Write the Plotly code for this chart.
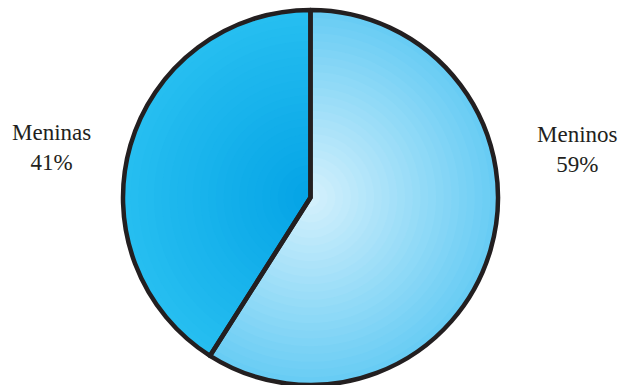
import plotly.graph_objects as go

categories = ["Meninos", "Meninas"]
values = [59, 41]

# gradient colours (edge -> centre) per slice
edge_cols = [(0x68, 0xcc, 0xf4), (0x26, 0xbe, 0xf0)]
centre_cols = [(0xd2, 0xf0, 0xfc), (0x05, 0xa4, 0xe6)]

W, H = 618, 385
cx, cy = 310.5, 197.5   # pixel centre (from top)
R = 187.5

def mix(a, b, t):
    return "rgb(%d,%d,%d)" % tuple(round(a[k] + (b[k] - a[k]) * t) for k in range(3))

fig = go.Figure()
N = 24
for i in range(N):
    t = i / (N - 1)
    s = 1 - 0.95 * t
    r = R * s
    dom_x = [(cx - r) / W, (cx + r) / W]
    dom_y = [(H - cy - r) / H, (H - cy + r) / H]
    fig.add_trace(go.Pie(
        labels=categories, values=values, sort=False, direction="clockwise",
        rotation=0, domain=dict(x=dom_x, y=dom_y),
        marker=dict(colors=[mix(edge_cols[0], centre_cols[0], t),
                            mix(edge_cols[1], centre_cols[1], t)],
                    line=dict(width=0)),
        textinfo="none", hoverinfo="skip", showlegend=False,
    ))

# outline on top
fig.add_trace(go.Pie(
    labels=categories, values=values, sort=False, direction="clockwise",
    rotation=0,
    domain=dict(x=[(cx - R) / W, (cx + R) / W], y=[(H - cy - R) / H, (H - cy + R) / H]),
    marker=dict(colors=["rgba(0,0,0,0)", "rgba(0,0,0,0)"],
                line=dict(color="#231f20", width=4.5)),
    textinfo="none", hoverinfo="label+percent", showlegend=False,
))

label_pos = {"Meninos": (577, 149), "Meninas": (51, 147)}
for c, v in zip(categories, values):
    x, y = label_pos[c]
    fig.add_annotation(
        x=x / W, y=1 - y / H, xref="paper", yref="paper",
        xanchor="center", yanchor="middle",
        text=f"{c}<br>{v}%", showarrow=False, align="center",
        font=dict(family="Liberation Serif", size=23, color="#231f20"),
    )

fig.update_layout(
    width=W, height=H, margin=dict(l=0, r=0, t=0, b=0),
    paper_bgcolor="white", plot_bgcolor="white",
)
fig.write_html("out.html")
